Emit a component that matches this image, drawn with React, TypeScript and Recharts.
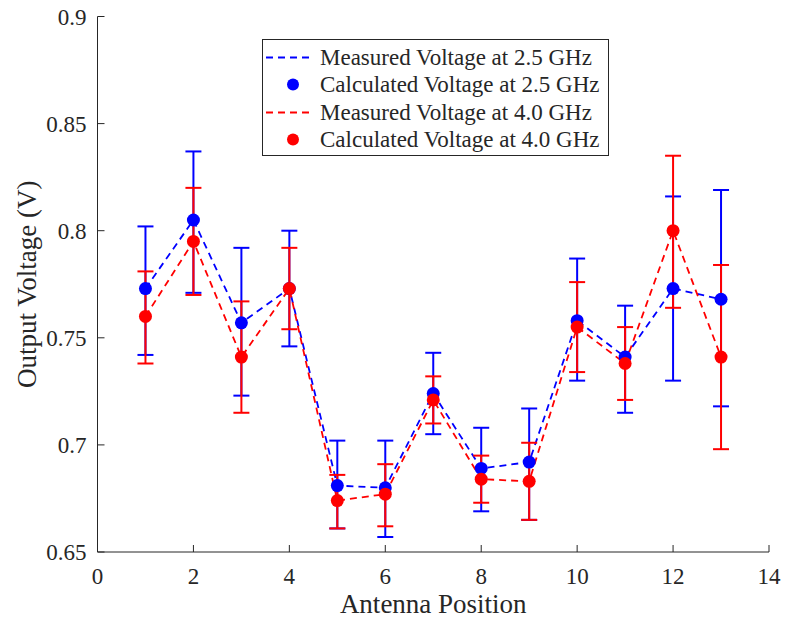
import React from 'react';
import { ComposedChart, Line, XAxis, YAxis, ErrorBar } from 'recharts';

// antenna positions along the x axis
const positions = [1, 2, 3, 4, 5, 6, 7, 8, 9, 10, 11, 12, 13];

// 2.5 GHz: value and error bar ends
const v25 = [0.773, 0.805, 0.757, 0.773, 0.681, 0.680, 0.724, 0.689, 0.692, 0.758, 0.741, 0.773, 0.768];
const v25Low = [0.742, 0.771, 0.723, 0.746, 0.661, 0.657, 0.705, 0.669, 0.665, 0.730, 0.715, 0.730, 0.718];
const v25High = [0.802, 0.837, 0.792, 0.800, 0.702, 0.702, 0.743, 0.708, 0.717, 0.787, 0.765, 0.816, 0.819];

// 4.0 GHz
const v40 = [0.760, 0.795, 0.741, 0.773, 0.674, 0.677, 0.721, 0.684, 0.683, 0.755, 0.738, 0.800, 0.741];
const v40Low = [0.738, 0.770, 0.715, 0.754, 0.661, 0.662, 0.710, 0.673, 0.665, 0.734, 0.721, 0.764, 0.698];
const v40High = [0.781, 0.820, 0.767, 0.792, 0.686, 0.691, 0.732, 0.695, 0.701, 0.776, 0.755, 0.835, 0.784];

const xTicks = [0, 2, 4, 6, 8, 10, 12, 14];
const yTicks = [0.65, 0.7, 0.75, 0.8, 0.85, 0.9];

const legendItems = [
  { label: 'Measured Voltage at 2.5 GHz', color: '#0000ff', kind: 'line' },
  { label: 'Calculated Voltage at 2.5 GHz', color: '#0000ff', kind: 'dot' },
  { label: 'Measured Voltage at 4.0 GHz', color: '#ff0000', kind: 'line' },
  { label: 'Calculated Voltage at 4.0 GHz', color: '#ff0000', kind: 'dot' },
];

const data = positions.map((p, i) => ({
  pos: p,
  v25: v25[i],
  e25: [v25[i] - v25Low[i], v25High[i] - v25[i]],
  v40: v40[i],
  e40: [v40[i] - v40Low[i], v40High[i] - v40[i]],
}));

const FONT = "'Liberation Serif', 'Times New Roman', serif";
const AXIS = '#262626';
const TL = 7; // inward tick length

// ticks drawn inside the box, MATLAB style
const BottomTick = ({ x, y, payload }: any) => (
  <g>
    <line x1={x} y1={y} x2={x} y2={y - TL} stroke={AXIS} />
    <text x={x} y={y + 16} dy="0.71em" textAnchor="middle" fontSize={23} fill={AXIS} fontFamily={FONT}>{payload.value}</text>
  </g>
);
const TopTick = ({ x, y }: any) => <line x1={x} y1={y} x2={x} y2={y + TL} stroke={AXIS} />;
const LeftTick = ({ x, y, payload }: any) => (
  <g>
    <line x1={x} y1={y} x2={x + TL} y2={y} stroke={AXIS} />
    <text x={x - 11} y={y} dy="0.355em" textAnchor="end" fontSize={23} fill={AXIS} fontFamily={FONT}>{payload.value}</text>
  </g>
);
const RightTick = ({ x, y }: any) => <line x1={x} y1={y} x2={x - TL} y2={y} stroke={AXIS} />;

export default function App() {
  const titleStyle = { fontSize: 27, fill: AXIS, fontFamily: FONT };
  return (
    <div style={{ position: 'relative', width: 789, height: 621, margin: '-8px 0 0 -8px', fontFamily: FONT }}>
      <ComposedChart width={789} height={621} data={data}
        margin={{ top: 16.5, right: 20, bottom: 29, left: 17.5 }}>
        <XAxis dataKey="pos" type="number" domain={[0, 14]} ticks={xTicks} allowDataOverflow
          height={40} stroke={AXIS} tickLine={false} tickSize={0} tickMargin={0} tick={BottomTick}
          label={{ value: 'Antenna Position', position: 'bottom', offset: 2, style: titleStyle }} />
        <XAxis xAxisId="top" orientation="top" dataKey="pos" type="number" domain={[0, 14]} ticks={xTicks}
          height={0} stroke={AXIS} tickLine={false} tickSize={0} tickMargin={0} tick={TopTick} />
        <YAxis type="number" domain={[0.65, 0.9]} ticks={yTicks} allowDataOverflow width={80}
          stroke={AXIS} tickLine={false} tickSize={0} tickMargin={0} tick={LeftTick}
          label={{ value: 'Output Voltage (V)', angle: -90, position: 'insideLeft', offset: 9,
            style: { ...titleStyle, textAnchor: 'middle' } }} />
        <YAxis yAxisId="right" orientation="right" type="number" domain={[0.65, 0.9]} ticks={yTicks}
          width={0} stroke={AXIS} tickLine={false} tickSize={0} tickMargin={0} tick={RightTick} />
        <Line dataKey="v25" stroke="#0000ff" strokeWidth={1.8} strokeDasharray="7 5"
          dot={{ r: 6.5, fill: '#0000ff', stroke: '#0000ff', strokeWidth: 0, strokeDasharray: '' }}
          activeDot={false} isAnimationActive={false}>
          <ErrorBar dataKey="e25" direction="y" width={8} stroke="#0000ff" strokeWidth={2} />
        </Line>
        <Line dataKey="v40" stroke="#ff0000" strokeWidth={1.8} strokeDasharray="7 5"
          dot={{ r: 6.5, fill: '#ff0000', stroke: '#ff0000', strokeWidth: 0, strokeDasharray: '' }}
          activeDot={false} isAnimationActive={false}>
          <ErrorBar dataKey="e40" direction="y" width={8} stroke="#ff0000" strokeWidth={2} />
        </Line>
      </ComposedChart>
      <div style={{ position: 'absolute', left: 262, top: 39, width: 345, height: 115,
        border: `1px solid ${AXIS}`, background: '#fff' }}>
        {legendItems.map((it, i) => (
          <div key={i} style={{ position: 'absolute', left: 0, top: 4 + i * 27.3, height: 27, width: '100%' }}>
            <svg width={50} height={27} style={{ position: 'absolute', left: 2, top: 0 }}>
              {it.kind === 'line'
                ? <line x1={1} y1={13.5} x2={46} y2={13.5} stroke={it.color} strokeWidth={1.8} strokeDasharray="7 5" />
                : <circle cx={28} cy={13.5} r={6} fill={it.color} />}
            </svg>
            <span style={{ position: 'absolute', left: 57, top: 0, lineHeight: '27px', fontSize: 23, color: AXIS, whiteSpace: 'nowrap' }}>
              {it.label}
            </span>
          </div>
        ))}
      </div>
    </div>
  );
}
